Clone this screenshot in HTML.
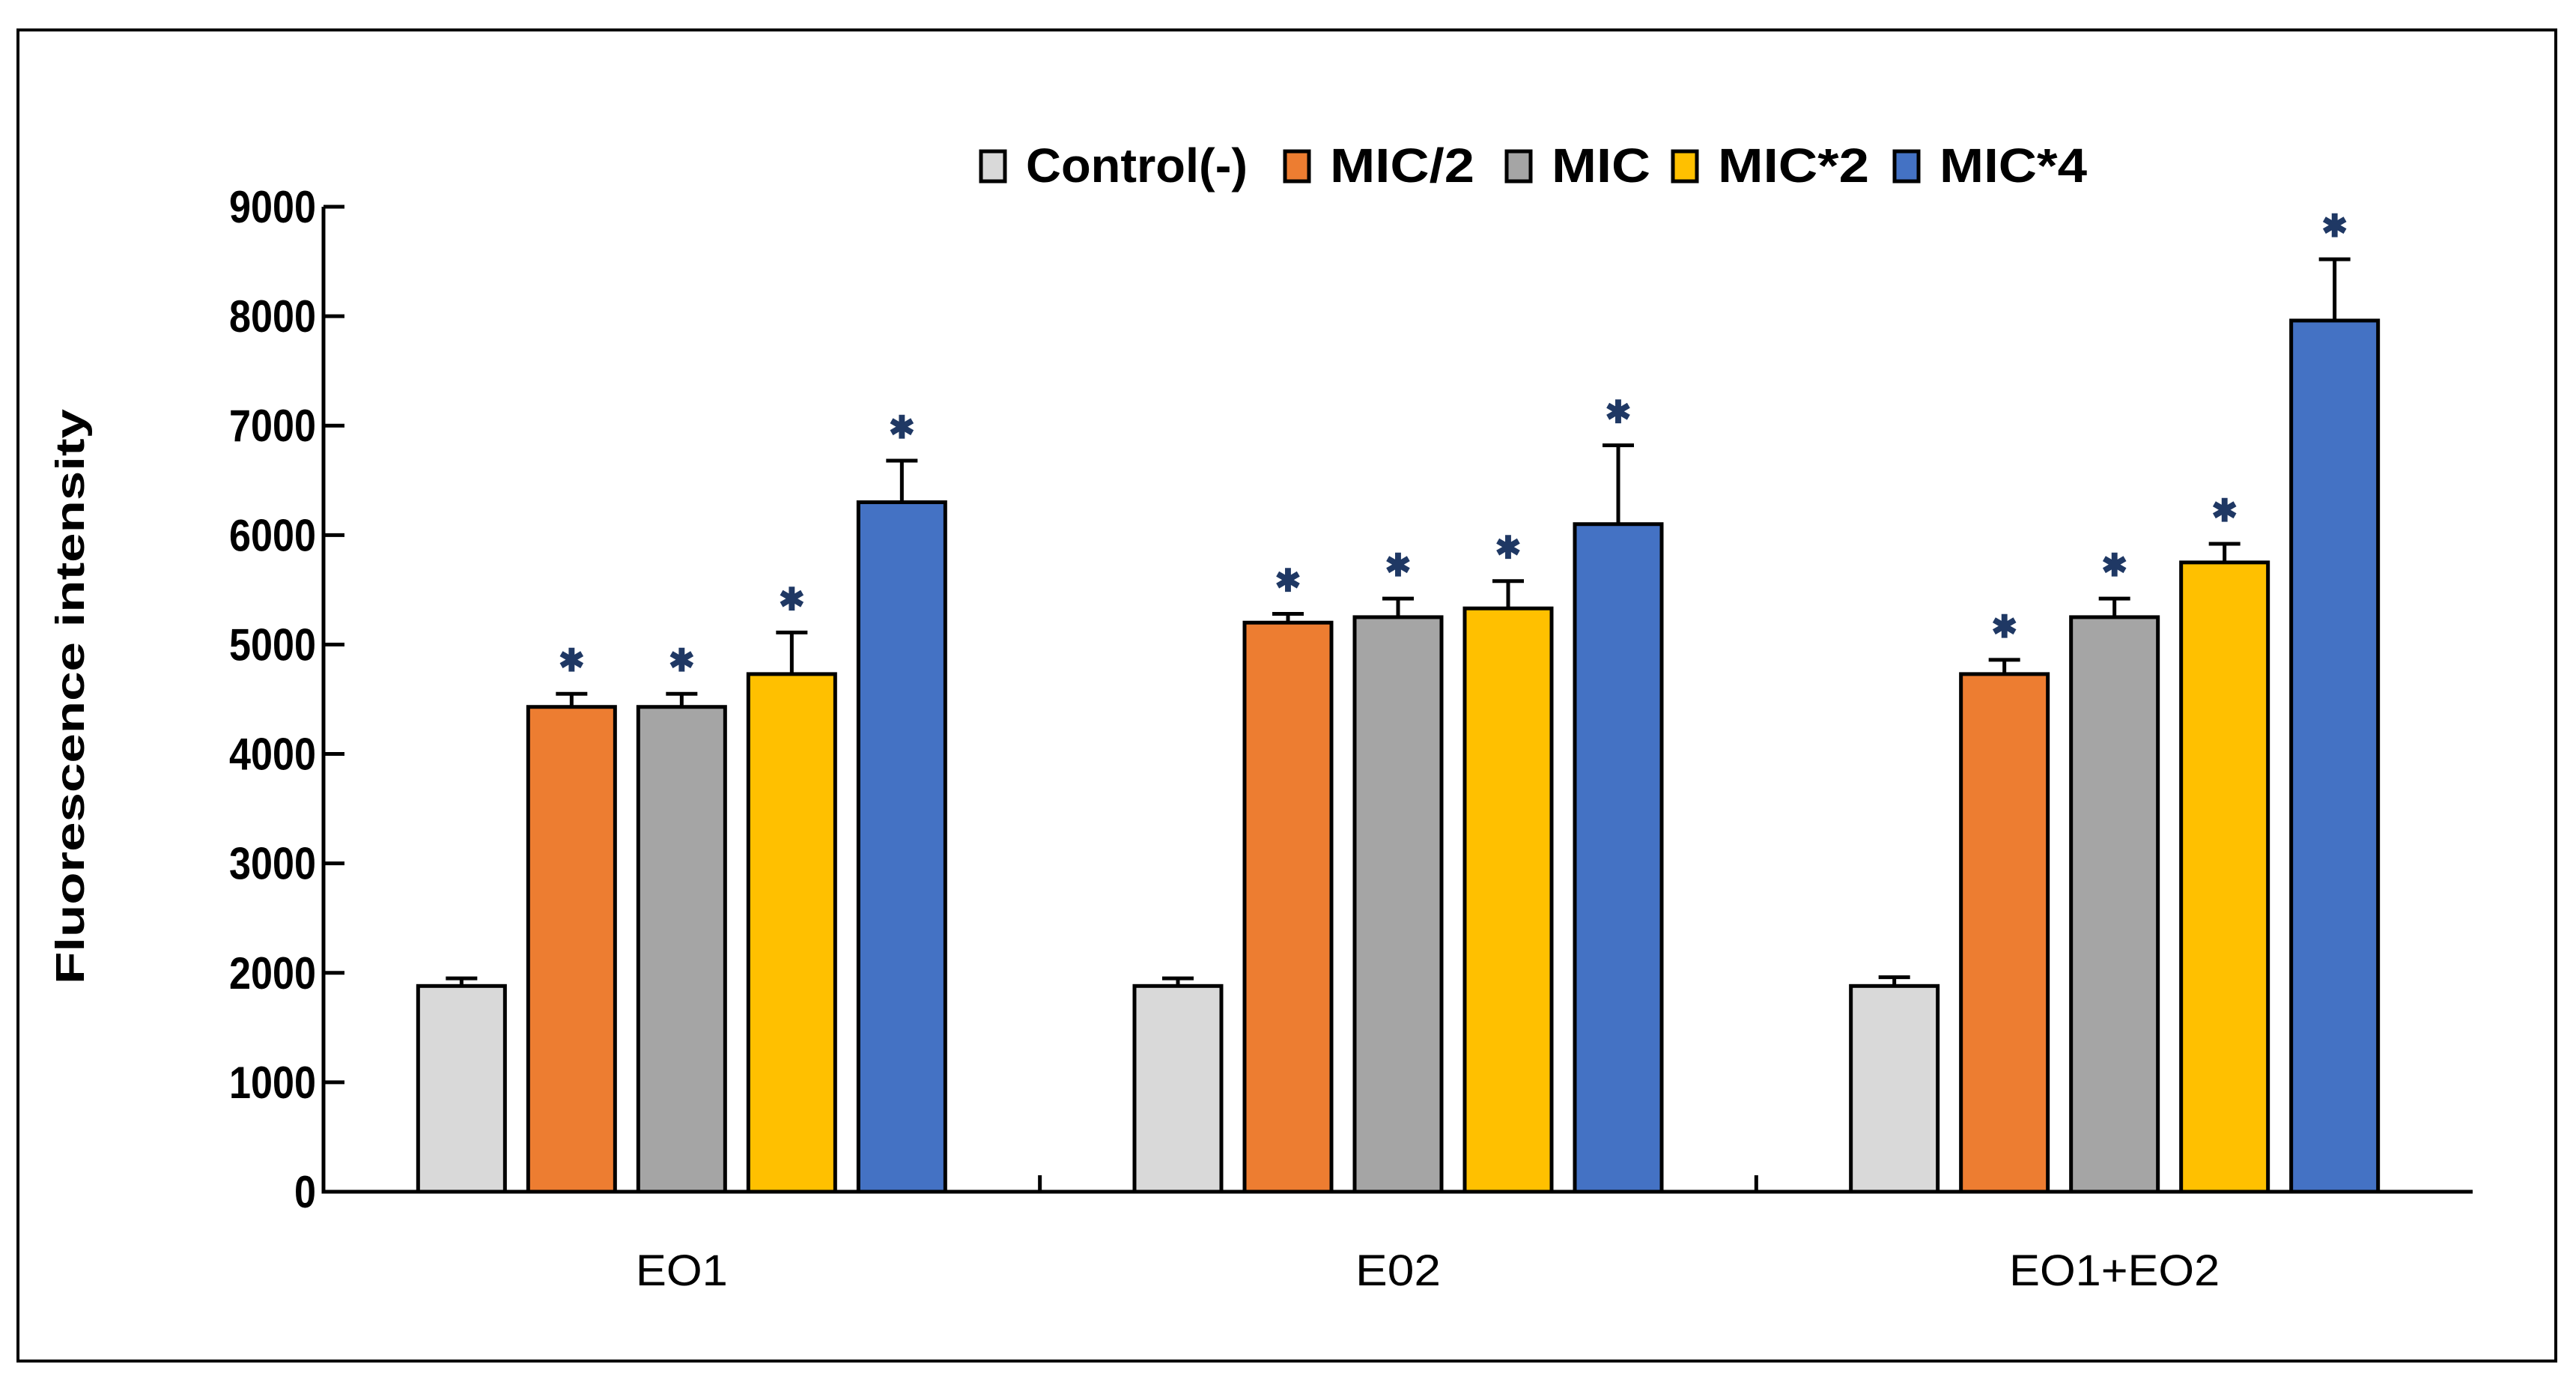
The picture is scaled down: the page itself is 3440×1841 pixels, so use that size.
<!DOCTYPE html>
<html><head><meta charset="utf-8">
<style>
html,body{margin:0;padding:0;background:#fff;}
svg{display:block;font-family:"Liberation Sans",sans-serif;}
</style></head>
<body>
<svg id="chart" width="3440" height="1841" viewBox="0 0 3440 1841" xmlns="http://www.w3.org/2000/svg">
<rect x="24" y="40" width="3389" height="1777" fill="#fff" stroke="#000" stroke-width="4"/>
<g id="legend"></g>
<g id="plot"></g>
<text transform="translate(112,930) rotate(-90)" text-anchor="middle" font-size="54" font-weight="bold" textLength="768" lengthAdjust="spacingAndGlyphs">Fluorescence  intensity</text>
</svg>
<script>
const categories = ["EO1", "E02", "EO1+EO2"];
const seriesNames = ["Control(-)", "MIC/2", "MIC", "MIC*2", "MIC*4"];
const seriesColors = ["#d9d9d9", "#ed7d31", "#a5a5a5", "#ffc000", "#4472c4"];
const valControl = [1880, 1880, 1880];
const valMic2 = [4430, 5200, 4730];
const valMic = [4430, 5250, 5250];
const valMicx2 = [4730, 5330, 5750];
const valMicx4 = [6300, 6100, 7960];
const errControl = [70, 70, 80];
const errMic2 = [120, 80, 130];
const errMic = [120, 170, 170];
const errMicx2 = [380, 250, 170];
const errMicx4 = [380, 720, 560];
const yTicks = [0, 1000, 2000, 3000, 4000, 5000, 6000, 7000, 8000, 9000];

const values = [valControl, valMic2, valMic, valMicx2, valMicx4];
const errs = [errControl, errMic2, errMic, errMicx2, errMicx4];
const NS = "http://www.w3.org/2000/svg";
const plot = document.getElementById('plot');
const legend = document.getElementById('legend');
const X0 = 432, X1 = 3302, Y0 = 1591, YT = 276, YMAX = 9000;
const slot = (X1 - X0) / categories.length;
const y = v => Y0 - (v / YMAX) * (Y0 - YT);
const xCenter = i => X0 + slot * (i + 0.5);
const barStep = 147, barW = 116;
function mk(tag, attrs, parent) {
  const e = document.createElementNS(NS, tag);
  for (const k in attrs) e.setAttribute(k, attrs[k]);
  parent.appendChild(e);
  return e;
}
values.forEach((arr, s) => {
  arr.forEach((v, c) => {
    const cx = xCenter(c) + (s - 2) * barStep;
    const r = mk('rect', {x: cx - barW/2, y: y(v), width: barW, height: Y0 - y(v), fill: seriesColors[s], stroke: '#000', 'stroke-width': 5}, plot);
    
    
    const top = y(v + errs[s][c]);
    const eb = mk('path', {d: `M${cx},${y(v)} V${top} M${cx-21},${top} H${cx+21}`, stroke: '#000', 'stroke-width': 5, fill: 'none'}, plot);
    
    
    if (s > 0) {
      const st = mk('text', {x: cx, y: top - 30, 'text-anchor': 'middle', 'font-size': 42, 'font-weight': 'bold', fill: '#1f3864'}, plot);
      st.textContent = '✱';
      
      
    }
  });
});
const ax = mk('path', {d: `M${X0},${YT} V${Y0} H${X1}`, stroke: '#000', 'stroke-width': 5, fill: 'none'}, plot);


yTicks.forEach(t => {
  const tk = mk('line', {x1: X0, x2: X0 + 28, y1: y(t), y2: y(t), stroke: '#000', 'stroke-width': 5}, plot);
  
  
  const len = String(t).length * 29;
  const lb = mk('text', {x: 422, y: y(t) + 21, 'text-anchor': 'end', 'font-size': 60, 'font-weight': 'bold', textLength: len, lengthAdjust: 'spacingAndGlyphs'}, plot);
  lb.textContent = t;
  
  
});
for (let i = 1; i < categories.length; i++) {
  const tk = mk('line', {x1: X0 + slot*i, x2: X0 + slot*i, y1: Y0, y2: Y0 - 22, stroke: '#000', 'stroke-width': 5}, plot);
  
  
}
const xLabelLens = [123, 114, 281];
categories.forEach((c, i) => {
  const lb = mk('text', {x: xCenter(i), y: 1716, 'text-anchor': 'middle', 'font-size': 58, textLength: xLabelLens[i], lengthAdjust: 'spacingAndGlyphs'}, plot);
  lb.textContent = c;
  
  
});
const legX = [1310, 1716, 2012, 2234, 2530];
const legLens = [296, 193, 132, 202, 197];
seriesNames.forEach((n, s) => {
  const sq = mk('rect', {x: legX[s], y: 202, width: 32, height: 40, fill: seriesColors[s], stroke: '#000', 'stroke-width': 5}, legend);
  
  
  const t = mk('text', {x: legX[s] + 60, y: 243, 'font-size': 64, 'font-weight': 'bold', textLength: legLens[s], lengthAdjust: 'spacingAndGlyphs'}, legend);
  t.textContent = n;
  
  
});
</script>
</body></html>
